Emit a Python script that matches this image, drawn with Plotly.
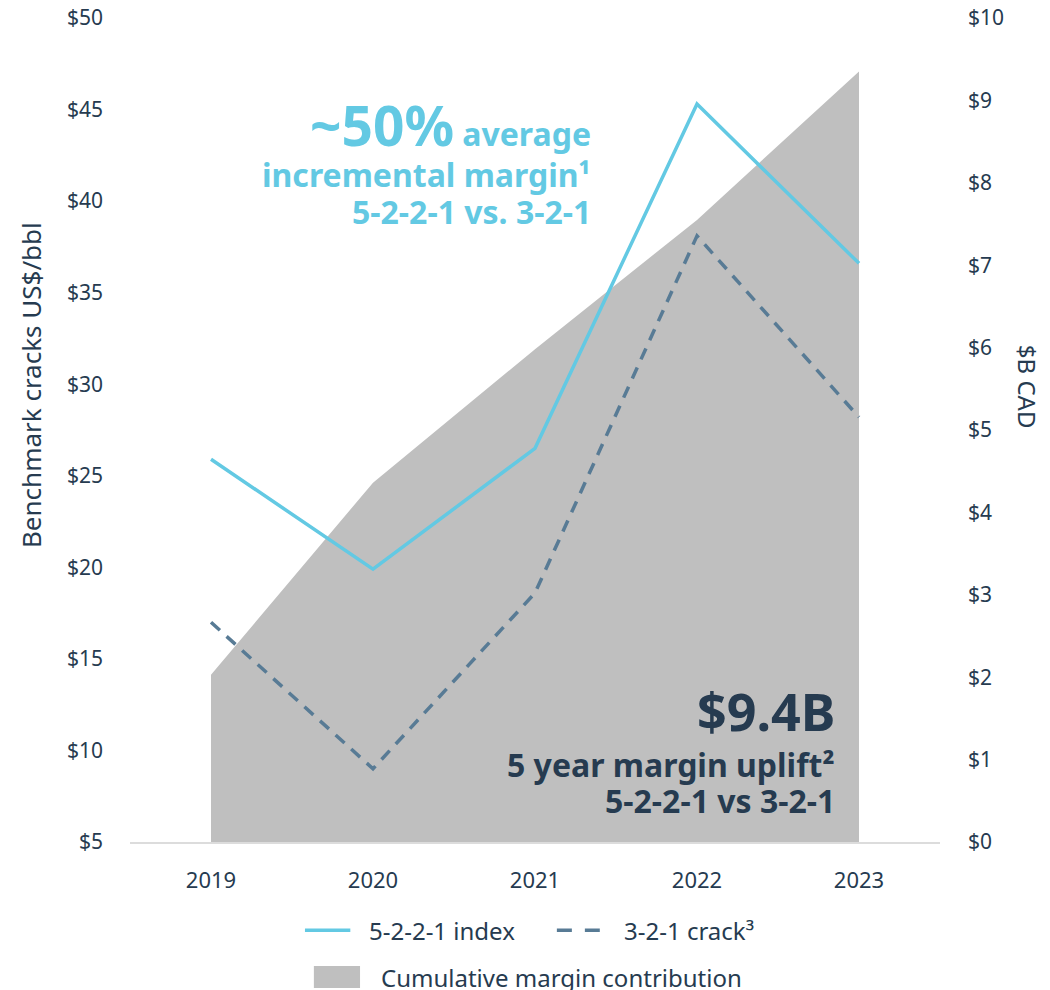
import plotly.graph_objects as go

years = ['2019', '2020', '2021', '2022', '2023']
index_5221 = [25.9, 19.9, 26.5, 45.3, 36.6]    # US$/bbl
crack_321 = [17.0, 9.0, 18.6, 38.1, 28.2]      # US$/bbl
cum_margin = [2.03, 4.36, 5.98, 7.55, 9.35]    # $B CAD

left_ticks = [5, 10, 15, 20, 25, 30, 35, 40, 45, 50]
right_ticks = [0, 1, 2, 3, 4, 5, 6, 7, 8, 9, 10]

BLUE = '#63c9e3'
SLATE = '#587b95'
GREY = '#bfbfbf'
INK = '#263b50'
FONT = 'Noto Sans'

fig = go.Figure()

# area sits on the primary (right-hand) axis so the lines on y2 draw over it
fig.add_trace(go.Scatter(
  name='Cumulative margin contribution', x=years, y=cum_margin,
  mode='lines', fill='tozeroy', fillcolor=GREY,
  line=dict(width=0, color=GREY), yaxis='y'))
fig.add_trace(go.Scatter(
  name='5-2-2-1 index', x=years, y=index_5221, mode='lines',
  line=dict(color=BLUE, width=3.5), yaxis='y2'))
fig.add_trace(go.Scatter(
  name='3-2-1 crack³', x=years, y=crack_321, mode='lines',
  line=dict(color=SLATE, width=3.5, dash='12px,9px'), yaxis='y2'))

tick_font = dict(family=FONT, size=21, color=INK)

# page body adds an 8px offset, so the figure is sized to fit the window
fig.update_layout(
  width=1042, height=982,
  margin=dict(l=122, r=110, t=10, b=148),
  plot_bgcolor='white', paper_bgcolor='white',
  font=dict(family=FONT, color=INK),
  showlegend=False,
  xaxis=dict(
    type='category', range=[-0.5, 4.5], showgrid=False, zeroline=False,
    showline=True, linecolor='#dcdcdc', linewidth=2, automargin=False,
    tickfont=dict(family=FONT, size=22, color=INK),
    ticklabelstandoff=18, ticks=''),
  yaxis=dict(
    range=[0, 10], tickvals=right_ticks,
    ticktext=[f'${v}' for v in right_ticks], side='right',
    showgrid=False, zeroline=False, showline=False, automargin=False,
    tickfont=tick_font, ticklabelstandoff=27, ticklabeloverflow='allow'),
  yaxis2=dict(
    range=[5, 50], tickvals=left_ticks,
    ticktext=[f'${v}' for v in left_ticks],
    overlaying='y', side='left', showgrid=False, zeroline=False,
    showline=False, automargin=False,
    tickfont=tick_font, ticklabelstandoff=26, ticklabeloverflow='allow'),
)

# axis titles as annotations (right one reads top to bottom)
fig.add_annotation(
  text='Benchmark cracks US$/bbl', xref='paper', yref='paper',
  x=-0.123, y=0.555, xanchor='center', yanchor='middle',
  textangle=-90, showarrow=False,
  font=dict(family=FONT, size=26, color=INK))
fig.add_annotation(
  text='$B CAD', xref='paper', yref='paper',
  x=1.109, y=0.552, xanchor='center', yanchor='middle',
  textangle=90, showarrow=False,
  font=dict(family=FONT, size=24, color=INK))

# blue callout
blue_lines = [
  ('<b><span style="font-size:55px">~50%</span> average</b>', 0.871),
  ('<b>incremental margin¹</b>', 0.810),
  ('<b>5-2-2-1 vs. 3-2-1</b>', 0.765),
]
for txt, yy in blue_lines:
  fig.add_annotation(
    text=txt, xref='paper', yref='paper', x=0.571, y=yy,
    xanchor='right', yanchor='middle', showarrow=False, align='right',
    font=dict(family=FONT, size=32, color=BLUE))

# dark callout
fig.add_annotation(
  text='<b>$9.4B</b>', xref='paper', yref='paper', x=0.873, y=0.159,
  xanchor='right', yanchor='middle', showarrow=False,
  font=dict(family=FONT, size=52, color=INK))
for txt, yy in [('<b>5 year margin uplift²</b>', 0.094),
                ('<b>5-2-2-1 vs 3-2-1</b>', 0.050)]:
  fig.add_annotation(
    text=txt, xref='paper', yref='paper', x=0.873, y=yy,
    xanchor='right', yanchor='middle', showarrow=False, align='right',
    font=dict(family=FONT, size=32, color=INK))

# legend drawn by hand: two keys on the first row, the area key below
leg_font = dict(family=FONT, size=24, color=INK)
row1, row2 = -0.107, -0.164
fig.add_shape(type='line', xref='paper', yref='paper',
              x0=0.216, x1=0.272, y0=row1, y1=row1,
              line=dict(color=BLUE, width=3.5))
fig.add_annotation(text='5-2-2-1 index', xref='paper', yref='paper',
                   x=0.293, y=row1, xanchor='left', yanchor='middle',
                   showarrow=False, font=leg_font)
fig.add_shape(type='line', xref='paper', yref='paper',
              x0=0.527, x1=0.580, y0=row1, y1=row1,
              line=dict(color=SLATE, width=3.5, dash='15px,13px'))
fig.add_annotation(text='3-2-1 crack³', xref='paper',
                   yref='paper', x=0.607, y=row1, xanchor='left',
                   yanchor='middle', showarrow=False, font=leg_font)
fig.add_shape(type='rect', xref='paper', yref='paper',
              x0=0.227, x1=0.284, y0=-0.1505, y1=-0.1772,
              fillcolor=GREY, line=dict(width=0))
fig.add_annotation(text='Cumulative margin contribution', xref='paper',
                   yref='paper', x=0.307, y=row2, xanchor='left',
                   yanchor='middle', showarrow=False, font=leg_font)

fig.write_html('out.html')
